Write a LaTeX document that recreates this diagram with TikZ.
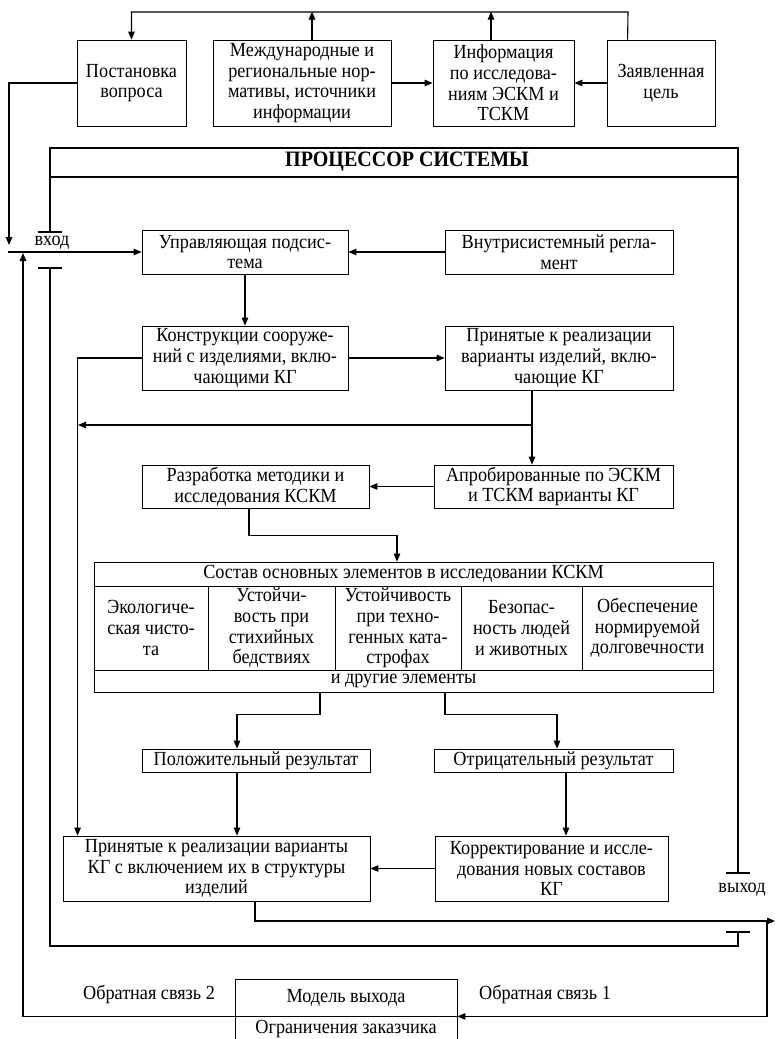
\documentclass[tikz,border=0pt]{standalone}
\usepackage{fontspec}
\setmainfont{Liberation Serif}[FakeStretch=0.91]
\usetikzlibrary{arrows.meta}

\begin{document}
\begin{tikzpicture}[x=1pt, y=-1pt,
  box/.style={draw, line width=0.8pt, inner sep=0pt, align=center,
    font=\fontsize{20}{20.7}\selectfont},
  txt/.style={inner sep=0pt, align=center, font=\fontsize{20}{20.7}\selectfont},
  arr/.style={line width=1.1pt, -{Triangle[length=8pt,width=6.5pt]}},
  frame/.style={line width=2.2pt}]
  \useasboundingbox (0,0) rectangle (775,1039);
  % внешние блоки
  \node (post) at (131.5,83) [box, minimum width=109pt, minimum height=86pt] {Постановка\\вопроса};
  \node (norm) at (302,83) [box, minimum width=178pt, minimum height=86pt] {Международные и\\региональные нор-\\мативы, источники\\информации};
  \node (info) at (503.5,83) [box, minimum width=141pt, minimum height=86pt] {Информация\\по исследова-\\ниям ЭСКМ и\\ТСКМ};
  \node (goal) at (661,83) [box, minimum width=108pt, minimum height=86pt] {Заявленная\\цель};
  \coordinate (topRun) at (628,12);
  \draw[arr] ([xshift=21pt]goal.north west) -- (topRun) -| (post.north);
  \draw[arr] (norm.north) ++(10,0) -- ++(0,-28);
  \draw[arr] (info.north) ++(-12.5,0) -- ++(0,-28);
  \draw[arr] (norm.east) -- (info.west);
  \draw[arr] (goal.west) -- (info.east);
  \coordinate (postDrop) at (9,245);
  \draw[arr] (post.west) -| (postDrop);
  % процессор системы
  \draw[frame] (50,232) -- (50,148) -- (738,148) -- (738,873);
  \draw[frame] (50,268) -- (50,946) -- (738,946) -- (738,932);
  \draw[frame] (50,177) -- (738,177);
  \draw[frame] (38,232) -- (62,232);
  \draw[frame] (38,268) -- (62,268);
  \draw[frame] (726,873) -- (750,873);
  \draw[frame] (726,932) -- (750,932);
  \node (proc) at (407,162) [txt, font=\bfseries\fontsize{22}{22}\selectfont] {ПРОЦЕССОР СИСТЕМЫ};
  \node (vhod) at (52,243) [txt] {вход};
  \node (vyhod) at (742,890) [txt] {выход};
  % управление
  \node (ctrl) at (245,252) [box, minimum width=206pt, minimum height=44pt] {Управляющая подсис-\\тема};
  \node (reg) at (559,252) [box, minimum width=228pt, minimum height=44pt] {Внутрисистемный регла-\\мент};
  \coordinate (inStart) at (8,252);
  \draw[arr] (inStart) -- (ctrl.west);
  \draw[arr] (reg.west) -- (ctrl.east);
  \node (constr) at (245,358) [box, minimum width=206pt, minimum height=64pt] {Конструкции сооруже-\\ний с изделиями, вклю-\\чающими КГ};
  \node (accv) at (559,358) [box, minimum width=228pt, minimum height=64pt] {Принятые к реализации\\варианты изделий, вклю-\\чающие КГ};
  \draw[arr] (ctrl.south) -- (constr.north);
  \draw[arr] (constr.east) -- (accv.west);
  % исследования
  \node (dev) at (255.5,486.5) [box, minimum width=227pt, minimum height=43pt] {Разработка методики и\\исследования КСКМ};
  \node (apr) at (553.5,486.5) [box, minimum width=239pt, minimum height=43pt] {Апробированные по ЭСКМ\\и ТСКМ варианты КГ};
  \coordinate (split) at (532,425);
  \coordinate (kline) at (78,425);
  \draw[arr] ([xshift=-27pt]accv.south) -- ([xshift=-21.5pt]apr.north);
  \draw[arr] (split) -- (kline);
  \draw[arr] (apr.west) -- (dev.east);
  % состав элементов
  \node (tab) at (403.5,627) [box, minimum width=619pt, minimum height=130pt] {};
  \draw[line width=0.8pt] (94,586) -- (713,586);
  \draw[line width=0.8pt] (94,670) -- (713,670);
  \foreach \cx in {208,335,461,582}
    \draw[line width=0.8pt] (\cx,586) -- (\cx,670);
  \node (head) at (403.5,574) [txt] {Состав основных элементов в исследовании КСКМ};
  \node (c1) at (151,628) [txt] {Экологиче-\\ская чисто-\\та};
  \node (c2) at (271.5,628) [txt] {Устойчи-\\вость при\\стихийных\\бедствиях};
  \node (c3) at (398,628) [txt] {Устойчивость\\при техно-\\генных ката-\\строфах};
  \node (c4) at (521.5,628) [txt] {Безопас-\\ность людей\\и животных};
  \node (c5) at (647.5,628) [txt] {Обеспечение\\нормируемой\\долговечности};
  \node (rest) at (403.5,681) [txt] {и другие элементы};
  \draw[arr] ([xshift=-6.5pt]dev.south) -- ++(0,27) -| ([xshift=-6.5pt]tab.north);
  % результаты
  \node (pos) at (256,760.5) [box, minimum width=228pt, minimum height=23pt] {Положительный результат};
  \node (neg) at (553.5,760.5) [box, minimum width=239pt, minimum height=23pt] {Отрицательный результат};
  \draw[arr] ([xshift=-83.5pt]tab.south) -- ++(0,22) -| ([xshift=-19pt]pos.north);
  \draw[arr] ([xshift=41.5pt]tab.south) -- ++(0,22) -| ([xshift=3.5pt]neg.north);
  \node (final) at (216.5,868.5) [box, minimum width=307pt, minimum height=65pt] {Принятые к реализации варианты\\КГ с включением их в структуры\\изделий};
  \node (corr) at (551.5,868.5) [box, minimum width=233pt, minimum height=65pt] {Корректирование и иссле-\\дования новых составов\\КГ};
  \draw[arr] ([xshift=-19pt]pos.south) -- ([xshift=20.5pt]final.north);
  \draw[arr] ([xshift=12.5pt]neg.south) -- ([xshift=14.5pt]corr.north);
  \draw[arr] (corr.west) -- (final.east);
  \draw[arr] (constr.west) -| ([xshift=15pt]final.north west);
  % выход и обратные связи
  \node (model) at (346,997.5) [box, minimum width=222pt, minimum height=37pt] {Модель выхода};
  \node (limits) at (346,1034.5) [box, minimum width=222pt, minimum height=37pt] {};
  \node (limtxt) at (346,1029) [txt] {Ограничения заказчика};
  \node (fb2) at (149,994) [txt] {Обратная связь 2};
  \node (fb1) at (545,994) [txt] {Обратная связь 1};
  \coordinate (outEnd) at (775,921);
  \coordinate (outTap) at (767,921);
  \coordinate (fbTip) at (23,253);
  \draw[arr] ([xshift=38.5pt]final.south) |- (outEnd);
  \draw[arr] (outTap) |- (model.south east);
  \draw[arr] (model.south west) -| (fbTip);
\end{tikzpicture}
\end{document}
